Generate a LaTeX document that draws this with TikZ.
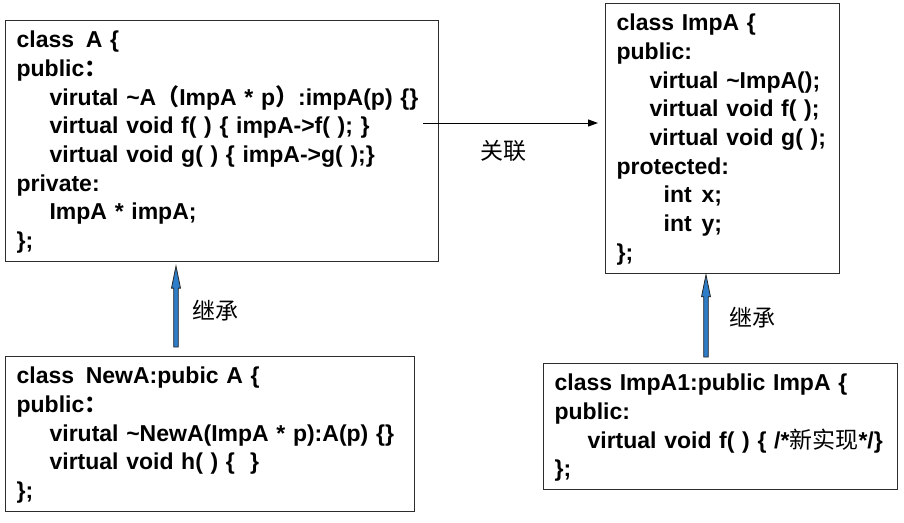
\documentclass[tikz,border=0pt]{standalone}
\usepackage{fontspec}
\setmainfont{Liberation Sans}[WordSpace=1.8]
\newfontfamily\cjk{Noto Sans CJK SC}
\usetikzlibrary{arrows.meta,calc}
\definecolor{inhblue}{RGB}{46,125,200}
\definecolor{boxline}{RGB}{45,45,45}
\newcommand\fw[1]{{\cjk\bfseries #1}}
\newcommand\tops{\rule{0pt}{27pt}}
\newcommand\bots{\rule[-13pt]{0pt}{13pt}}
\newcommand\ind{\hspace*{33pt}}
\begin{document}
\begin{tikzpicture}[x=1pt,y=-1pt,
  box/.style={draw=boxline, line width=1.2pt, anchor=north west, align=left,
    inner xsep=11pt, inner ysep=0pt, font=\bfseries\fontsize{23}{28.7}\selectfont},
  lbl/.style={font=\cjk\fontsize{23}{26}\selectfont, inner sep=0pt},
  assoc/.style={draw=black, line width=1pt, -{Triangle[length=10pt,width=7pt]}},
  inh/.style={fill=inhblue, draw=black!85, line width=0.8pt}]
\useasboundingbox (0,0) rectangle (904,522);

\node[box, text width=411pt] (A) at (5,20) {%
\mbox{\tops class \hspace{4pt}A \{}\\
\mbox{public\fw{：}}\\
\mbox{\ind virutal \textasciitilde A\fw{（}ImpA * p\fw{）}:impA(p) \{\}}\\
\mbox{\ind virtual void f( ) \{ impA->f( ); \}}\\
\mbox{\ind virtual void g( ) \{ impA->g( );\}}\\
\mbox{private:}\\
\mbox{\ind ImpA * impA;}\\
\mbox{\};\bots}};

\node[box, text width=212pt] (ImpA) at (605,3) {%
\mbox{\tops class ImpA \{}\\
\mbox{public:}\\
\mbox{\ind virtual \textasciitilde ImpA();}\\
\mbox{\ind virtual void f( );}\\
\mbox{\ind virtual void g( );}\\
\mbox{protected:}\\
\mbox{\hspace*{47pt}int\hspace{10pt}x;}\\
\mbox{\hspace*{47pt}int\hspace{10pt}y;}\\
\mbox{\};\bots}};

\node[box, text width=387pt] (NewA) at (5,356) {%
\mbox{\tops class \hspace{4pt}NewA:pubic A \{}\\
\mbox{public\fw{：}}\\
\mbox{\ind virutal \textasciitilde NewA(ImpA * p):A(p) \{\}}\\
\mbox{\ind virtual void h( ) \{ \ \}}\\
\mbox{\};\bots}};

\node[box, text width=332pt] (ImpA1) at (543,363) {%
\mbox{\tops class ImpA1:public ImpA \{}\\
\mbox{public:}\\
\mbox{\ind virtual void f( ) \{ /*{\cjk\mdseries 新实现}*/\}}\\
\mbox{\};\bots}};

\draw[assoc] ($(A.north east)+(-16,103)$) -- ($(ImpA.north west)+(-7,120)$);
\node[lbl] (l1) at (503,151) {关联};

\coordinate (i1t) at ($(A.south west)+(171,4)$);
\coordinate (i1b) at ($(NewA.north west)+(171,-9)$);
\filldraw[inh] ($(i1b)+(-2.3,0)$) -- ($(i1t)+(-2.3,22)$) -- ($(i1t)+(-4.5,22)$) -- (i1t)
  -- ($(i1t)+(4.5,22)$) -- ($(i1t)+(2.3,22)$) -- ($(i1b)+(2.3,0)$) -- cycle;
\node[lbl] (l2) at (215,311) {继承};

\coordinate (i2t) at ($(ImpA.south west)+(101,1)$);
\coordinate (i2b) at ($(ImpA1.north west)+(163,-6)$);
\filldraw[inh] ($(i2b)+(-2.3,0)$) -- ($(i2t)+(-2.3,22)$) -- ($(i2t)+(-4.5,22)$) -- (i2t)
  -- ($(i2t)+(4.5,22)$) -- ($(i2t)+(2.3,22)$) -- ($(i2b)+(2.3,0)$) -- cycle;
\node[lbl] (l3) at (752,318) {继承};
\end{tikzpicture}
\end{document}
